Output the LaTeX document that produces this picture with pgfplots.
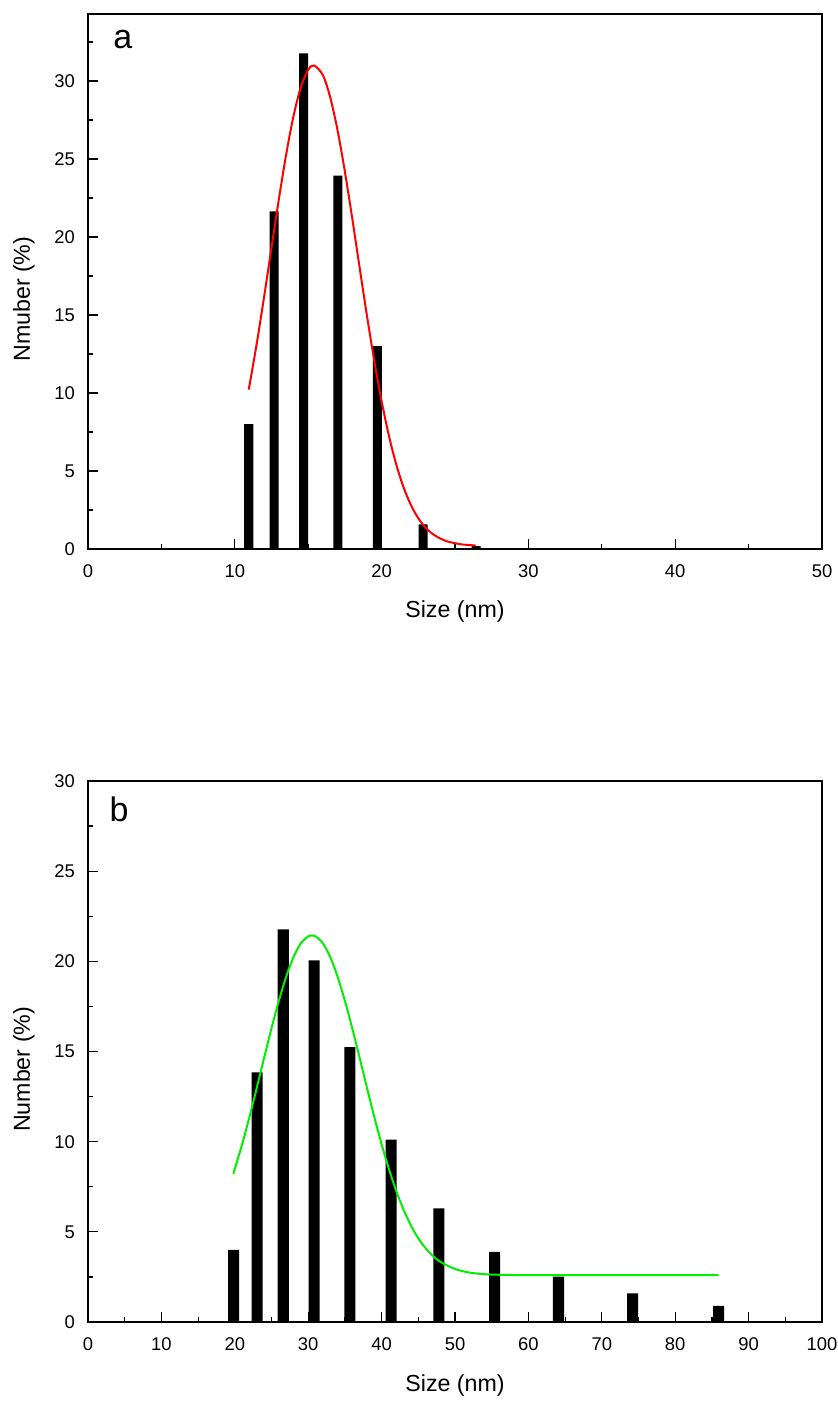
\documentclass[border=0pt]{standalone}
\usepackage{pgfplots}
\pgfplotsset{compat=1.18}
\usepackage{fontspec}
\setmainfont{Liberation Sans}
\definecolor{fitgreen}{RGB}{0,240,0}
\newcommand\ticksize{\fontsize{9.2}{11}\selectfont}
\newcommand\labsize{\fontsize{11.6}{14}\selectfont}
\begin{document}
\begin{tikzpicture}
\useasboundingbox (0,0) rectangle (418.5pt,-700.5pt);
\pgfplotsset{
  common/.style={
    scale only axis, width=367pt,
    xmin=0, ymin=0,
    tick align=inside, xtick pos=bottom, ytick pos=left,
    major tick length=5pt, minor tick length=2.5pt,
    tick style={black, line width=0.6pt},
    axis line style={line width=0.65pt},
    /pgf/number format/assume math mode=true,
    xticklabel={\ticksize\pgfmathprintnumber{\tick}},
    yticklabel={\ticksize\pgfmathprintnumber{\tick}},
    xticklabel style={yshift=-4.5pt},
    yticklabel style={xshift=-3pt},
    every axis y label/.style={at={(axis description cs:-0.0872,0.467)},rotate=90,anchor=center},
  }
}
\begin{axis}[common, at={(44pt,-274.5pt)}, anchor=south west, height=267.5pt,
  xmax=50, ymax=34.3,
  xtick={0,10,...,50}, minor xtick={5,15,...,45},
  ytick={0,5,...,30}, minor ytick={2.5,7.5,...,32.5},
  every axis x label/.style={at={(axis description cs:0.5,-0.116)},anchor=center},
  xlabel={\labsize Size (nm)}, ylabel={\labsize Nmuber (\%)}]
\addplot[ybar, bar width=0.62, fill=black, draw=none] coordinates {
(10.95,8.0) (12.68,21.65) (14.69,31.78) (17.02,23.93) (19.71,13.01) (22.83,1.58) (26.44,0.19)};
\addplot[red, line width=1pt, smooth] coordinates {
(10.95,10.22) (11.5,13.20) (12,16.19) (12.5,19.32) (13,22.42) (13.5,25.30) (14,27.76)
(14.5,29.62) (15,30.72) (15.4,31.0) (16,30.38) (16.5,28.96) (17,26.84) (17.5,24.19)
(18,21.20) (18.5,18.06) (19,14.97) (19.5,12.08) (20,9.48) (20.5,7.25) (21,5.41)
(21.5,3.94) (22,2.81) (22.5,1.97) (23,1.36) (23.5,0.95) (24,0.67) (24.5,0.48)
(25,0.37) (25.5,0.29) (26,0.25) (26.4,0.23)};
\node[anchor=base west, inner sep=0, font=\fontsize{17}{20}\selectfont] at (axis description cs:0.034,0.9364) {a};
\end{axis}
\begin{axis}[common, at={(44pt,-661pt)}, anchor=south west, height=270.5pt,
  xmax=100, ymax=30,
  xtick={0,10,...,100}, minor xtick={5,15,...,95},
  ytick={0,5,...,30}, minor ytick={2.5,7.5,...,27.5},
  every axis x label/.style={at={(axis description cs:0.5,-0.118)},anchor=center},
  xlabel={\labsize Size (nm)}, ylabel={\labsize Number (\%)}]
\addplot[ybar, bar width=1.5, fill=black, draw=none] coordinates {
(19.85,4.0) (23.05,13.85) (26.6,21.78) (30.8,20.05) (35.67,15.24) (41.3,10.11)
(47.8,6.30) (55.4,3.89) (64.1,2.52) (74.2,1.59) (85.9,0.89)};
\addplot[fitgreen, line width=1pt, smooth] coordinates {
(19.8,8.22) (21,9.86) (22,11.38) (23,13.00) (24,14.66) (25,16.29) (26,17.81) (27,19.15)
(28,20.24) (29,21.00) (30,21.39) (30.5,21.44) (31,21.39) (32,21.00) (33,20.24) (34,19.15)
(35,17.81) (36,16.29) (37,14.66) (38,13.00) (39,11.38) (40,9.86) (41,8.48) (42,7.26)
(43,6.22) (44,5.35) (45,4.64) (46,4.09) (47,3.66) (48,3.34) (50,2.94) (52,2.74)
(54,2.655) (56,2.62) (60,2.60) (70,2.60) (85.9,2.60)};
\node[anchor=base west, inner sep=0, font=\fontsize{17}{20}\selectfont] at (axis description cs:0.029,0.925) {b};
\end{axis}
\end{tikzpicture}
\end{document}
